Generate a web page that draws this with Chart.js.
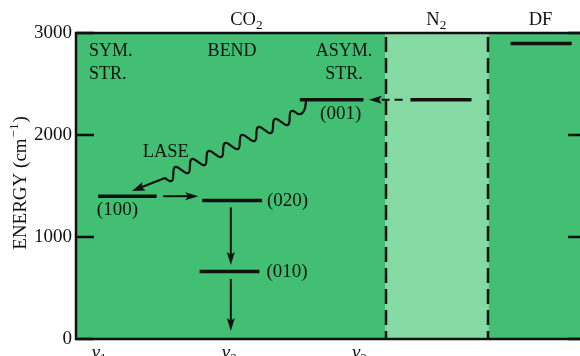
<!DOCTYPE html>
<html><head><meta charset="utf-8">
<script src="https://cdn.jsdelivr.net/npm/chart.js@4"></script>
<style>html,body{margin:0;padding:0;background:#fff;overflow:hidden;width:580px;height:356px}</style>
</head><body>
<canvas id="c" width="600" height="356" style="display:block"></canvas>
<script>
// ---- data ----
const levelNames  = ['(100)', '(020)', '(010)', '(001)', 'N₂', 'DF'];
const levelEnergy = [1400, 1358, 662, 2345, 2345, 2898];
const levelStart  = [1.00, 1.80, 1.78, 2.55, 3.40, 4.17];
const levelEnd    = [1.45, 2.26, 2.24, 3.04, 3.87, 4.64];

const modeTicks  = [1, 2, 3];
const modeLabels = ['ν', 'ν', 'ν'];
const modeSubs   = ['1', '2', '3'];
const modeHeaders = [['SYM.', 'STR.'], ['BEND'], ['ASYM.', 'STR.']];
const modeHeaderX = [0.93, 2.03, 2.89];

const yTicks = [0, 1000, 2000, 3000];
const yTickLabels = ['0', '1000', '2000', '3000'];

const columnNames  = ['CO₂', 'N₂', 'DF'];
const columnLabelX = [2.14, 3.60, 4.40];
const columnBounds = [0.83, 3.21, 4.00, 4.75];

// transfer arrows (data units)
const arrowX1 = [3.34, 1.50, 2.02, 2.02];
const arrowE1 = [2345, 1400, 1290, 588];
const arrowX2 = [3.08, 1.77, 2.02, 2.02];
const arrowE2 = [2345, 1400, 725, 78];
const arrowDashed = [true, false, false, false];

// lasing transition (001) -> (100)
const laseX = [2.598, 2.536, 1.514, 1.26];
const laseE = [2335, 2206, 1578, 1451];
const laseLabel = 'LASE';
const laseLabelX = 1.52, laseLabelE = 1784;

// ---- styling ----
const fam = '"Liberation Serif","Times New Roman",serif';
const GREEN = '#42bf72', LIGHT = '#84daa2', INK = '#111';
const labelStyle = [
  {side: 'below', dx: -10}, {side: 'right', dx: 0}, {side: 'right', dx: 2},
  {side: 'below', dx: 9}, {side: 'none'}, {side: 'none'}
];
const headerAlign = ['left', 'center', 'center'];

function subDraw(ctx, str, x, y, size, align) {
  const subMap = {'₀':'0','₁':'1','₂':'2','₃':'3'};
  const parts = [];
  for (const ch of str) {
    const sub = subMap[ch] !== undefined;
    parts.push({t: sub ? subMap[ch] : ch, sub});
  }
  let w = 0;
  parts.forEach(p => { ctx.font = (p.sub ? size*0.72 : size) + 'px ' + fam; p.w = ctx.measureText(p.t).width; w += p.w; });
  let cx = align === 'center' ? x - w/2 : (align === 'right' ? x - w : x);
  ctx.textAlign = 'left';
  parts.forEach(p => {
    ctx.font = (p.sub ? size*0.72 : size) + 'px ' + fam;
    ctx.fillText(p.t, cx, y + (p.sub ? size*0.22 : 0));
    cx += p.w;
  });
}
function head(ctx, x1, y1, x2, y2, len, half) {
  const a = Math.atan2(y2 - y1, x2 - x1);
  ctx.beginPath();
  ctx.moveTo(x2, y2);
  ctx.lineTo(x2 - len*Math.cos(a) + half*Math.sin(a), y2 - len*Math.sin(a) - half*Math.cos(a));
  ctx.lineTo(x2 - len*Math.cos(a)*0.8, y2 - len*Math.sin(a)*0.8);
  ctx.lineTo(x2 - len*Math.cos(a) - half*Math.sin(a), y2 - len*Math.sin(a) + half*Math.cos(a));
  ctx.closePath();
  ctx.fill();
}

const diagram = {
  id: 'diagram',
  beforeDatasetsDraw(chart) {
    const {ctx, chartArea: a, scales: {x}} = chart;
    ctx.save();
    for (let i = 0; i < columnNames.length; i++) {
      ctx.fillStyle = i === 1 ? LIGHT : GREEN;
      const l = x.getPixelForValue(columnBounds[i]), r = x.getPixelForValue(columnBounds[i+1]);
      ctx.fillRect(l, a.top, r - l, a.bottom - a.top);
    }
    ctx.strokeStyle = INK; ctx.lineWidth = 2.5; ctx.setLineDash([15, 6]);
    [columnBounds[1], columnBounds[2]].forEach(v => {
      const p = Math.round(x.getPixelForValue(v));
      ctx.beginPath(); ctx.moveTo(p, a.top + 4); ctx.lineTo(p, a.bottom); ctx.stroke();
    });
    ctx.restore();
  },
  afterDatasetsDraw(chart) {
    const {ctx, chartArea: a, scales: {x, y}} = chart;
    ctx.save();
    ctx.fillStyle = INK; ctx.strokeStyle = INK;
    // frame
    ctx.lineWidth = 2.5; ctx.setLineDash([]);
    ctx.strokeRect(a.left, a.top, a.right - a.left, a.bottom - a.top);
    // inward ticks
    yTicks.forEach(v => {
      const p = y.getPixelForValue(v);
      ctx.beginPath(); ctx.moveTo(a.left, p); ctx.lineTo(a.left + 18, p);
      ctx.moveTo(a.right, p); ctx.lineTo(a.right - 18, p); ctx.stroke();
    });
    // arrows
    for (let i = 0; i < arrowX1.length; i++) {
      const x1 = x.getPixelForValue(arrowX1[i]), y1 = y.getPixelForValue(arrowE1[i]);
      const x2 = x.getPixelForValue(arrowX2[i]), y2 = y.getPixelForValue(arrowE2[i]);
      ctx.lineWidth = 2;
      ctx.setLineDash(arrowDashed[i] ? [8, 5] : []);
      const a2 = Math.atan2(y2 - y1, x2 - x1);
      ctx.beginPath(); ctx.moveTo(x1, y1); ctx.lineTo(x2 - 6*Math.cos(a2), y2 - 6*Math.sin(a2)); ctx.stroke();
      ctx.setLineDash([]);
      head(ctx, x1, y1, x2, y2, 13, 4);
    }
    // lasing wavy line
    const P = laseX.map((v, i) => [x.getPixelForValue(v), y.getPixelForValue(laseE[i])]);
    ctx.lineWidth = 2.2; ctx.setLineDash([]); ctx.lineJoin = 'round';
    ctx.beginPath();
    ctx.moveTo(P[0][0], P[0][1]);
    ctx.quadraticCurveTo(P[0][0] - 1, P[1][1] + 2, P[1][0], P[1][1]);
    const dx = P[2][0] - P[1][0], dy = P[2][1] - P[1][1];
    const L = Math.hypot(dx, dy), nx = -dy / L, ny = dx / L;
    const cycles = 8, amp = 5.5;
    for (let k = 1; k <= 400; k++) {
      const t = k / 400;
      const s = amp * Math.sin(2 * Math.PI * cycles * t);
      ctx.lineTo(P[1][0] + dx*t + nx*s, P[1][1] + dy*t + ny*s);
    }
    const ang = Math.atan2(P[3][1] - P[2][1], P[3][0] - P[2][0]);
    ctx.lineTo(P[3][0] - 8*Math.cos(ang), P[3][1] - 8*Math.sin(ang));
    ctx.stroke();
    head(ctx, P[2][0], P[2][1], P[3][0], P[3][1], 13, 4.5);
    ctx.textBaseline = 'alphabetic';
    subDraw(ctx, laseLabel, x.getPixelForValue(laseLabelX), y.getPixelForValue(laseLabelE), 18.5, 'center');
    // level labels
    for (let i = 0; i < levelNames.length; i++) {
      const st = labelStyle[i];
      const xs = x.getPixelForValue(levelStart[i]), xe = x.getPixelForValue(levelEnd[i]);
      const py = y.getPixelForValue(levelEnergy[i]);
      if (st.side === 'below') subDraw(ctx, levelNames[i], (xs + xe)/2 + st.dx, py + 19, 19, 'center');
      else if (st.side === 'right') subDraw(ctx, levelNames[i], xe + 5 + st.dx, py + 6, 19, 'left');
    }
    // mode headers
    modeHeaders.forEach((lines, i) => {
      lines.forEach((t, j) => subDraw(ctx, t, x.getPixelForValue(modeHeaderX[i]), a.top + 23 + j*23, 18, headerAlign[i]));
    });
    // column names above the frame
    columnNames.forEach((t, i) => subDraw(ctx, t, x.getPixelForValue(columnLabelX[i]), a.top - 8, 18.5, 'center'));
    // x mode labels
    modeTicks.forEach((v, i) => {
      const px = x.getPixelForValue(v);
      ctx.font = 'italic 19px ' + fam; ctx.textAlign = 'right';
      ctx.fillText(modeLabels[i], px + 2, a.bottom + 19);
      ctx.font = '13px ' + fam; ctx.textAlign = 'left';
      ctx.fillText(modeSubs[i], px + 2, a.bottom + 23);
    });
    // y title
    ctx.translate(26, 183); ctx.rotate(-Math.PI/2);
    const t1 = 'ENERGY (cm', t2 = '−1', t3 = ')';
    ctx.font = '19px ' + fam; const w1 = ctx.measureText(t1).width, w3 = ctx.measureText(t3).width;
    ctx.font = '13px ' + fam; const w2 = ctx.measureText(t2).width + 2;
    let cx = -(w1 + w2 + w3)/2;
    ctx.textAlign = 'left';
    ctx.font = '19px ' + fam; ctx.fillText(t1, cx, 0); cx += w1;
    ctx.font = '13px ' + fam; ctx.fillText(t2, cx + 1, -8); cx += w2;
    ctx.font = '19px ' + fam; ctx.fillText(t3, cx, 0);
    ctx.restore();
  }
};

new Chart(document.getElementById('c'), {
  type: 'line',
  data: {
    datasets: levelNames.map((n, i) => ({
      label: n,
      data: [{x: levelStart[i], y: levelEnergy[i]}, {x: levelEnd[i], y: levelEnergy[i]}],
      borderColor: INK, borderWidth: 3.5, pointRadius: 0, borderCapStyle: 'butt', fill: false
    }))
  },
  options: {
    responsive: false, devicePixelRatio: 1, animation: false, events: [],
    layout: {padding: {top: 33, right: 14, left: 0, bottom: 0}},
    plugins: {legend: {display: false}, tooltip: {enabled: false}},
    scales: {
      x: {
        type: 'linear', min: columnBounds[0], max: columnBounds[3],
        afterFit(s) { s.height = 17; },
        ticks: {display: false},
        grid: {display: false, drawTicks: false}, border: {display: false}
      },
      y: {
        type: 'linear', min: 0, max: 3000,
        afterFit(s) { s.width = 76; },
        afterBuildTicks(s) { s.ticks = yTicks.map(v => ({value: v})); },
        ticks: {callback: v => yTickLabels[yTicks.indexOf(v)], font: {family: fam, size: 19}, color: INK, padding: 4},
        grid: {display: false, drawTicks: false}, border: {display: false}
      }
    }
  },
  plugins: [diagram]
});
</script>
</body></html>
